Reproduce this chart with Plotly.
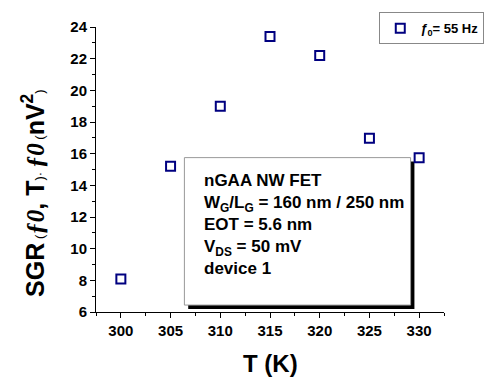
import plotly.graph_objects as go

# Data
temps = [300, 305, 310, 315, 320, 325, 330]
sgr = [8.08, 15.2, 19.0, 23.4, 22.2, 16.97, 15.75]
x_ticks = [300, 305, 310, 315, 320, 325, 330]
y_ticks = [6, 8, 10, 12, 14, 16, 18, 20, 22, 24]
legend_name = "<i>ƒ</i><sub>0</sub>= 55 Hz"
info_lines = [
    "nGAA NW FET",
    "W<sub>G</sub>/L<sub>G</sub> = 160 nm / 250 nm",
    "EOT = 5.6 nm",
    "V<sub>DS</sub> = 50 mV",
    "device 1",
]

NAVY = "#000080"
FONT = "Liberation Sans, Arial, sans-serif"

fig = go.Figure()
fig.add_trace(go.Scatter(
    x=temps, y=sgr, mode="markers", name=legend_name,
    marker=dict(symbol="square-open", size=9, color=NAVY, line=dict(width=2, color=NAVY)),
))

axis_common = dict(
    showgrid=False, zeroline=False, showline=True, linecolor="black", linewidth=1,
    ticks="outside", ticklen=5, tickwidth=1, tickcolor="black",
    tickfont=dict(family=FONT, size=15, color="black", weight="bold"),
    minor=dict(ticks="outside", ticklen=3, tickwidth=1, tickcolor="black"),
)

fig.update_xaxes(range=[297.5, 332.5], tickvals=x_ticks, minor_dtick=2.5, minor_tick0=297.5,
                 **axis_common)
fig.update_yaxes(range=[6, 24], tickvals=y_ticks, minor_dtick=1, minor_tick0=6, **axis_common)

# Info box shadow + box
fig.add_shape(type="rect", xref="paper", yref="paper", x0=0.265, x1=0.915, y0=0.0104, y1=0.528,
              fillcolor="black", line=dict(width=0), layer="below")
fig.add_shape(type="rect", xref="paper", yref="paper", x0=0.254, x1=0.904, y0=0.0243, y1=0.5417,
              fillcolor="white", line=dict(width=1, color="#999999"), layer="below")
fig.add_annotation(xref="paper", yref="paper", x=0.306, y=0.3056, xanchor="left", yanchor="middle",
                   align="left", showarrow=False, text="<br>".join(info_lines),
                   font=dict(family=FONT, size=17, color="black", weight="bold"))

# Axis titles
fig.add_annotation(xref="paper", yref="paper", x=0.5, y=-0.18, xanchor="center", yanchor="middle",
                   showarrow=False, text="T (K)",
                   font=dict(family=FONT, size=24, color="black", weight="bold"))
small = "<span style='font-size:13px;font-weight:normal'>"
serif = "<span style='font-family:Liberation Serif'>"
ytitle = (f"SGR{small} (</span>"
          f"<i>{serif}ƒ0</span></i>, T"
          f"{small})· </span>"
          f"<i>{serif}ƒ0</span></i>"
          f"{small} (</span>nV<sup>2</sup>"
          f"{small})</span>")
fig.add_annotation(xref="paper", yref="paper", x=-0.181, y=0.418, xanchor="center", yanchor="middle",
                   textangle=-90, showarrow=False, text=ytitle,
                   font=dict(family=FONT, size=25, color="black", weight="bold"))

fig.update_layout(
    width=496, height=378, margin=dict(l=96, r=34, t=24, b=66),
    plot_bgcolor="white", paper_bgcolor="white",
    showlegend=True,
    legend=dict(x=0.814, y=1.052, xanchor="left", yanchor="top", bordercolor="#888888", borderwidth=1,
                bgcolor="white", font=dict(family=FONT, size=13, color="black", weight="bold"),
                itemwidth=30),
)

fig.write_html("out.html")
